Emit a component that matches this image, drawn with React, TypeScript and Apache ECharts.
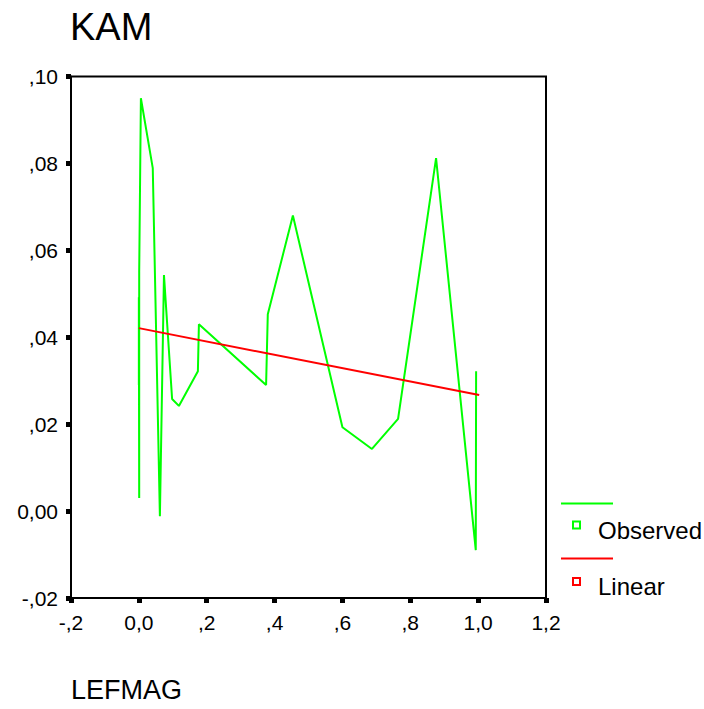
import React, { useEffect, useRef } from "react";
import * as echarts from "echarts";

// LEFMAG (x) and KAM (y), observed values in LEFMAG order
const lefmag = [0.0, 0.0, 0.001, 0.001, 0.006, 0.041, 0.062, 0.074, 0.098, 0.118, 0.174, 0.177, 0.375, 0.38, 0.454, 0.6, 0.687, 0.764, 0.876, 0.993, 0.994];
const kam = [0.029, 0.0492, 0.003, 0.055, 0.095, 0.0789, -0.0012, 0.0543, 0.0258, 0.0242, 0.0322, 0.043, 0.029, 0.0453, 0.068, 0.0193, 0.0143, 0.0212, 0.0812, -0.009, 0.0322];

// Linear fit line (end points)
const linearX = [0.0, 1.003];
const linearY = [0.0421, 0.0267];

const xTickLabels = ["-,2", "0,0", ",2", ",4", ",6", ",8", "1,0", "1,2"];
const yTickLabels = ["-,02", "0,00", ",02", ",04", ",06", ",08", ",10"];

const X_MIN = -0.2, X_MAX = 1.2, X_INT = 0.2;
const Y_MIN = -0.02, Y_MAX = 0.1, Y_INT = 0.02;

const FONT = "'Liberation Sans', Arial, sans-serif";
const GREEN = "#00ff00";
const RED = "#ff0000";

export default function App() {
  const ref = useRef<HTMLDivElement>(null);

  useEffect(() => {
    if (!ref.current) return;
    const chart = echarts.init(ref.current, undefined, { renderer: "svg" });

    const observed = lefmag.map((x, i) => [x, kam[i]]);
    const linear = linearX.map((x, i) => [x, linearY[i]]);

    chart.setOption({
      animation: false,
      backgroundColor: "#ffffff",
      textStyle: { fontFamily: FONT },
      grid: {
        left: 71,
        top: 76.5,
        right: 158,
        bottom: 111,
        show: true,
        borderColor: "#000",
        borderWidth: 2,
        backgroundColor: "transparent",
      },
      xAxis: {
        type: "value",
        min: X_MIN,
        max: X_MAX,
        interval: X_INT,
        splitLine: { show: false },
        axisLine: { show: true, onZero: false, lineStyle: { color: "#000", width: 2 } },
        axisTick: { show: true, inside: false, length: 5, lineStyle: { color: "#000", width: 5 } },
        axisLabel: {
          margin: 14,
          fontSize: 21,
          color: "#000",
          fontFamily: FONT,
          formatter: (v: number) => xTickLabels[Math.round((v - X_MIN) / X_INT)] ?? "",
        },
      },
      yAxis: {
        type: "value",
        min: Y_MIN,
        max: Y_MAX,
        interval: Y_INT,
        splitLine: { show: false },
        axisLine: { show: true, onZero: false, lineStyle: { color: "#000", width: 2 } },
        axisTick: { show: true, inside: false, length: 5, lineStyle: { color: "#000", width: 5 } },
        axisLabel: {
          margin: 13,
          fontSize: 21,
          color: "#000",
          fontFamily: FONT,
          formatter: (v: number) => yTickLabels[Math.round((v - Y_MIN) / Y_INT)] ?? "",
        },
      },
      series: [
        {
          name: "Observed",
          type: "line",
          data: observed,
          showSymbol: false,
          symbol: "none",
          lineStyle: { color: GREEN, width: 2 },
          itemStyle: { color: GREEN },
          z: 2,
        },
        {
          name: "Linear",
          type: "line",
          data: linear,
          showSymbol: false,
          symbol: "none",
          lineStyle: { color: RED, width: 2 },
          itemStyle: { color: RED },
          z: 3,
        },
      ],
      graphic: [
        {
          type: "text",
          left: 70,
          top: 8,
          style: { text: "KAM", fontSize: 38, fontFamily: FONT, fill: "#000" },
        },
        {
          type: "text",
          left: 71,
          top: 676,
          style: { text: "LEFMAG", fontSize: 27, fontFamily: FONT, fill: "#000" },
        },
        {
          type: "line",
          shape: { x1: 561, y1: 503.5, x2: 613, y2: 503.5 },
          style: { stroke: GREEN, lineWidth: 2 },
        },
        {
          type: "rect",
          shape: { x: 573, y: 521.5, width: 7, height: 7 },
          style: { stroke: GREEN, fill: "none", lineWidth: 2 },
        },
        {
          type: "text",
          left: 598,
          top: 518,
          style: { text: "Observed", fontSize: 24, fontFamily: FONT, fill: "#000" },
        },
        {
          type: "line",
          shape: { x1: 561, y1: 558.5, x2: 613, y2: 558.5 },
          style: { stroke: RED, lineWidth: 2 },
        },
        {
          type: "rect",
          shape: { x: 573, y: 578, width: 7, height: 7 },
          style: { stroke: RED, fill: "none", lineWidth: 2 },
        },
        {
          type: "text",
          left: 598,
          top: 574,
          style: { text: "Linear", fontSize: 24, fontFamily: FONT, fill: "#000" },
        },
      ],
    });

    return () => chart.dispose();
  }, []);

  return (
    <div
      ref={ref}
      style={{ position: "fixed", left: 0, top: 0, width: 704, height: 709, background: "#fff" }}
    />
  );
}
